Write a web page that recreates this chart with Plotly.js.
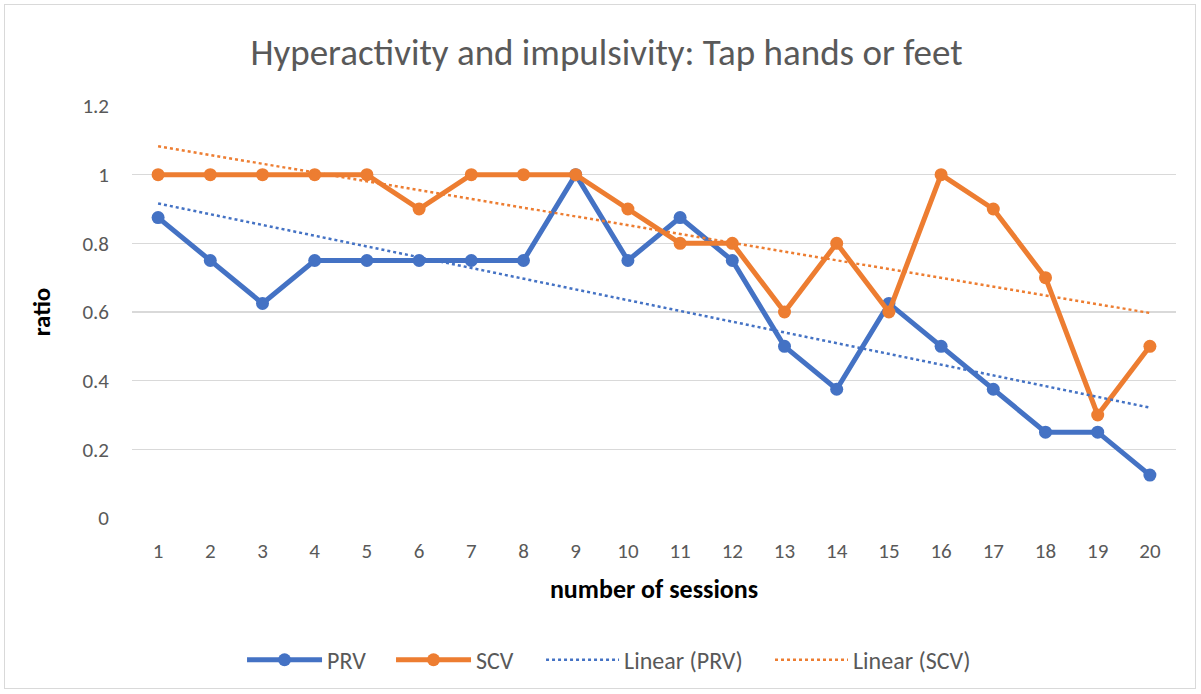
<!DOCTYPE html>
<html>
<head>
<meta charset="utf-8">
<script src="https://cdn.plot.ly/plotly-3.0.1.min.js"></script>
<style>
html,body{margin:0;padding:0;background:#fff;}
#wrap{position:absolute;left:4px;top:4px;width:1192px;height:685px;border:1px solid #d9d9d9;box-sizing:border-box;}
#chart{position:absolute;left:0;top:0;width:1201px;height:694px;}
</style>
</head>
<body>
<div id="wrap"></div>
<div id="chart"></div>
<script>
const sessions = [1,2,3,4,5,6,7,8,9,10,11,12,13,14,15,16,17,18,19,20];
const prv = [0.875,0.75,0.625,0.75,0.75,0.75,0.75,0.75,1,0.75,0.875,0.75,0.5,0.375,0.625,0.5,0.375,0.25,0.25,0.125];
const scv = [1,1,1,1,1,0.9,1,1,1,0.9,0.8,0.8,0.6,0.8,0.6,1,0.9,0.7,0.3,0.5];
const yTicks = [0,0.2,0.4,0.6,0.8,1,1.2];
const yTickText = ['0','0.2','0.4','0.6','0.8','1','1.2'];

function linFit(xs, ys){
  const n = xs.length;
  const mx = xs.reduce((a,b)=>a+b,0)/n;
  const my = ys.reduce((a,b)=>a+b,0)/n;
  let sxy=0, sxx=0;
  for(let i=0;i<n;i++){sxy+=(xs[i]-mx)*(ys[i]-my);sxx+=(xs[i]-mx)*(xs[i]-mx);}
  const b = sxy/sxx, a = my - b*mx;
  return xs.map(x=>a+b*x);
}

const blue='#4472C4', orange='#ED7D31';
const font = "Calibri, Carlito, 'Noto Sans', sans-serif";

const traces = [
  {x:sessions,y:prv,name:'PRV',type:'scatter',mode:'lines+markers',legend:'legend',
   line:{color:blue,width:5},marker:{color:blue,size:13}},
  {x:sessions,y:scv,name:'SCV',type:'scatter',mode:'lines+markers',legend:'legend2',
   line:{color:orange,width:5},marker:{color:orange,size:13}},
  {x:sessions,y:linFit(sessions,prv),name:'Linear (PRV)',type:'scatter',mode:'lines',legend:'legend3',
   line:{color:blue,width:2.5,dash:'dot'}},
  {x:sessions,y:linFit(sessions,scv),name:'Linear (SCV)',type:'scatter',mode:'lines',legend:'legend4',
   line:{color:orange,width:2.5,dash:'dot'}}
];

function leg(x, w){
  return {orientation:'h',x:x,xanchor:'left',y:-0.345,yanchor:'middle',
    font:{size:24,color:'#595959'},itemwidth:w,bgcolor:'rgba(0,0,0,0)'};
}

const layout = {
  width:1201,height:694,
  paper_bgcolor:'rgba(0,0,0,0)',plot_bgcolor:'rgba(0,0,0,0)',
  margin:{l:132,r:25,t:106,b:176},
  font:{family:font,color:'#595959',size:21},
  title:{text:'Hyperactivity and impulsivity: Tap hands or feet',x:0.505,xanchor:'center',y:0.925,yanchor:'middle',
    font:{family:font,size:37,color:'#595959'}},
  xaxis:{range:[0.5,20.5],tickvals:sessions,ticktext:sessions.map(String),showgrid:false,zeroline:false,
    showline:false,ticks:'',ticklabelstandoff:18,tickfont:{size:21,color:'#595959'},
    title:{text:'<b>number of sessions</b>',font:{size:26,color:'#000'},standoff:16}},
  yaxis:{range:[0,1.2],tickvals:yTicks,ticktext:yTickText,showgrid:true,gridcolor:'#d9d9d9',gridwidth:1.5,
    zeroline:false,showline:false,ticks:'',ticklabelstandoff:22,tickfont:{size:21,color:'#595959'},
    title:{text:'<b>ratio</b>',font:{size:25,color:'#000'},standoff:24}},
  showlegend:true,
  legend:leg(0.1054,75),
  legend2:leg(0.2481,75),
  legend3:leg(0.3918,73),
  legend4:leg(0.6111,73)
};

Plotly.newPlot('chart',traces,layout,{displayModeBar:false,staticPlot:true});
</script>
</body>
</html>
